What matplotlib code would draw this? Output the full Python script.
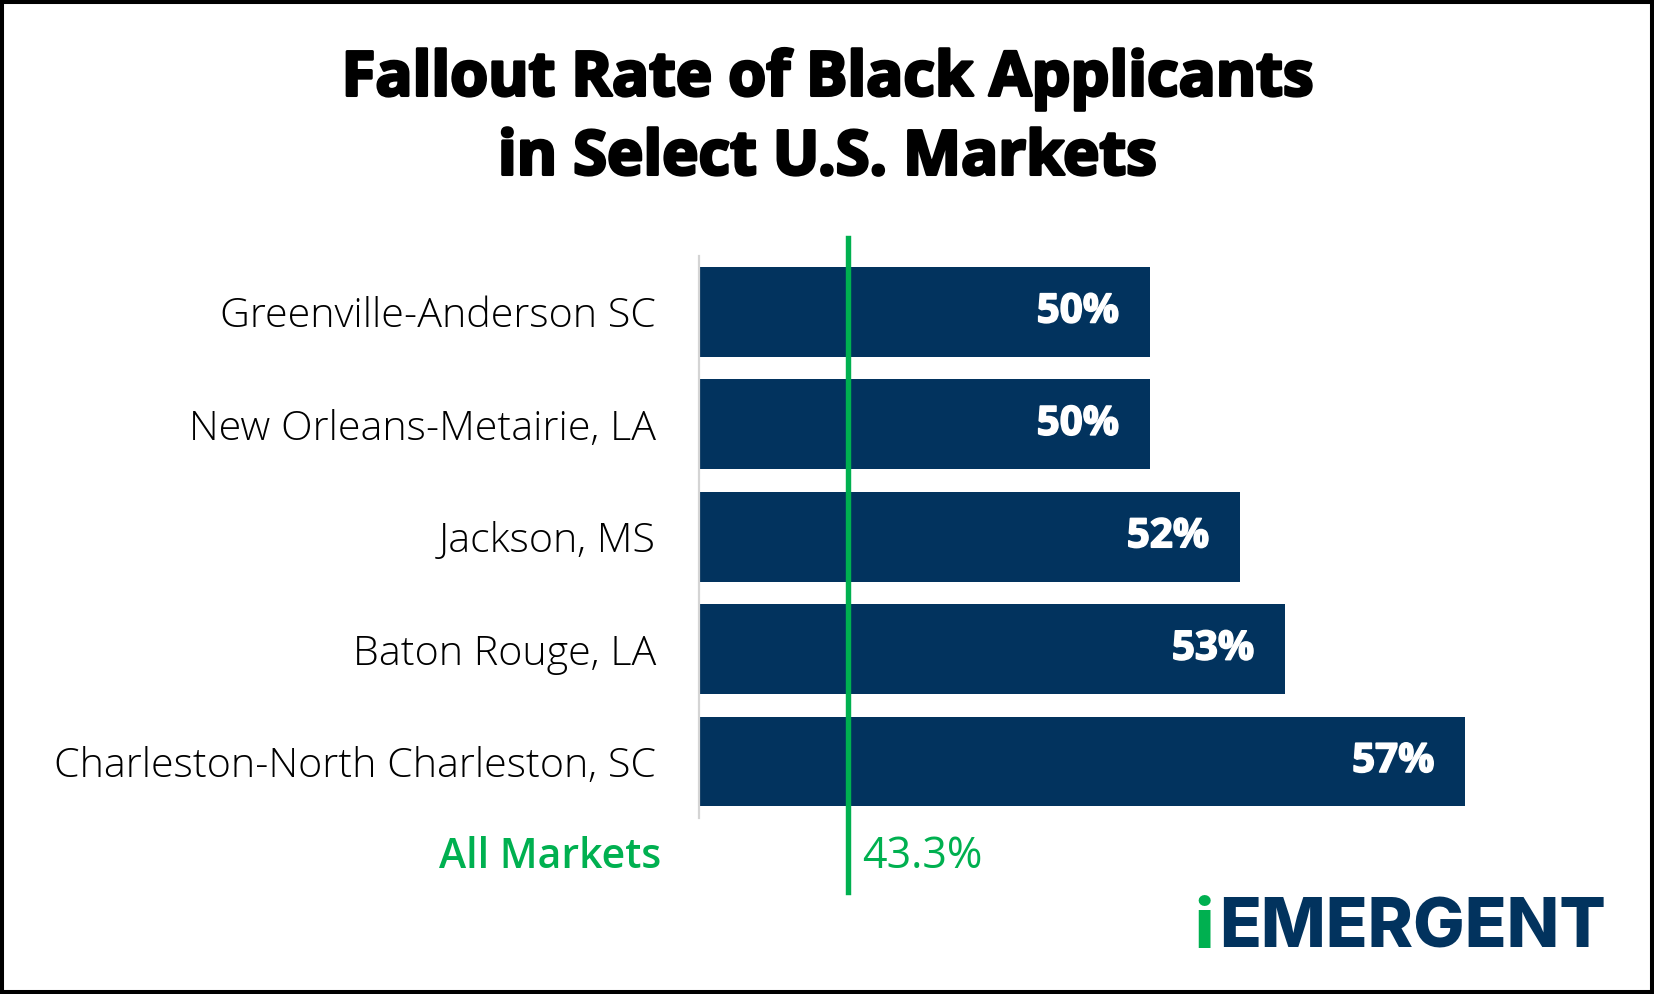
# Fallout rate chart - horizontal bars with an "All Markets" reference line
import matplotlib.pyplot as plt
import matplotlib.patheffects as pe
from matplotlib.patches import Rectangle

# Dados
mercados = ['Greenville-Anderson SC', 'New Orleans-Metairie, LA', 'Jackson, MS',
            'Baton Rouge, LA', 'Charleston-North Charleston, SC']
taxas = [50, 50, 52, 53, 57]
rotulos = ['50%', '50%', '52%', '53%', '57%']
media_todos = 43.3
media_rotulo = '43.3%'

navy = '#02335E'
verde = '#00B050'

plt.rcParams['font.family'] = ['Open Sans', 'DejaVu Sans']

fig = plt.figure(figsize=(16.54, 9.94), dpi=100)
ax = fig.add_axes([0.4226, 0.1774, 0.4903, 0.5653])

pos = list(range(len(mercados)))
ax.barh(pos, [t - 40 for t in taxas], left=40, height=0.8, color=navy)
ax.set_xlim(40, 58)
ax.set_ylim(4.5, -0.5)

# Rótulos dos valores dentro das barras (traço branco para engrossar)
grosso_branco = [pe.withStroke(linewidth=1.2, foreground='white')]
for p, t, r in zip(pos, taxas, rotulos):
    ax.text(t - 0.68, p, r, ha='right', va='center', color='white',
            fontsize=29, fontweight='bold', path_effects=grosso_branco)

ax.set_yticks(pos)
ax.set_yticklabels(mercados, fontsize=29.7, fontweight='light')
ax.tick_params(axis='y', length=0, pad=31)
ax.set_xticks([])
for s in ['top', 'right', 'bottom']:
    ax.spines[s].set_visible(False)
ax.spines['left'].set_color('#d4d4d4')
ax.spines['left'].set_linewidth(1.6)

# Linha de referência (todos os mercados)
ax.axvline(media_todos, ymin=-0.132, ymax=1.031, color=verde, lw=3.9,
           clip_on=False, zorder=5)
ax.text(media_todos + 0.33, 4.85, media_rotulo, ha='left', va='center',
        color=verde, fontsize=31)
ax.text(661 / 1654, 1 - 857 / 994, 'All Markets', transform=fig.transFigure,
        ha='right', va='center', color=verde, fontsize=29.5, fontweight='semibold')

# Título
grosso_preto = [pe.withStroke(linewidth=2.2, foreground='black')]
fig.text(0.5, 1 - 79 / 994, 'Fallout Rate of Black Applicants',
         ha='center', va='center', fontsize=44.3, fontweight='bold',
         path_effects=grosso_preto)
fig.text(0.5, 1 - 158 / 994, 'in Select U.S. Markets',
         ha='center', va='center', fontsize=44.3, fontweight='bold',
         path_effects=grosso_preto)

# Logo
fig.text(1194 / 1654, 1 - 930 / 994, 'i', ha='left', va='center',
         color=verde, fontsize=49.5, fontweight='heavy', family='Inter')
fig.text(1219 / 1654, 1 - 930 / 994, 'EMERGENT', ha='left', va='center',
         color=navy, fontsize=49.5, fontweight='heavy', family='Inter')

# Moldura
fig.patches.append(Rectangle((0, 0), 1, 1, transform=fig.transFigure,
                             fill=False, edgecolor='black', lw=5.8))

fig.savefig('out.png', dpi=100)
